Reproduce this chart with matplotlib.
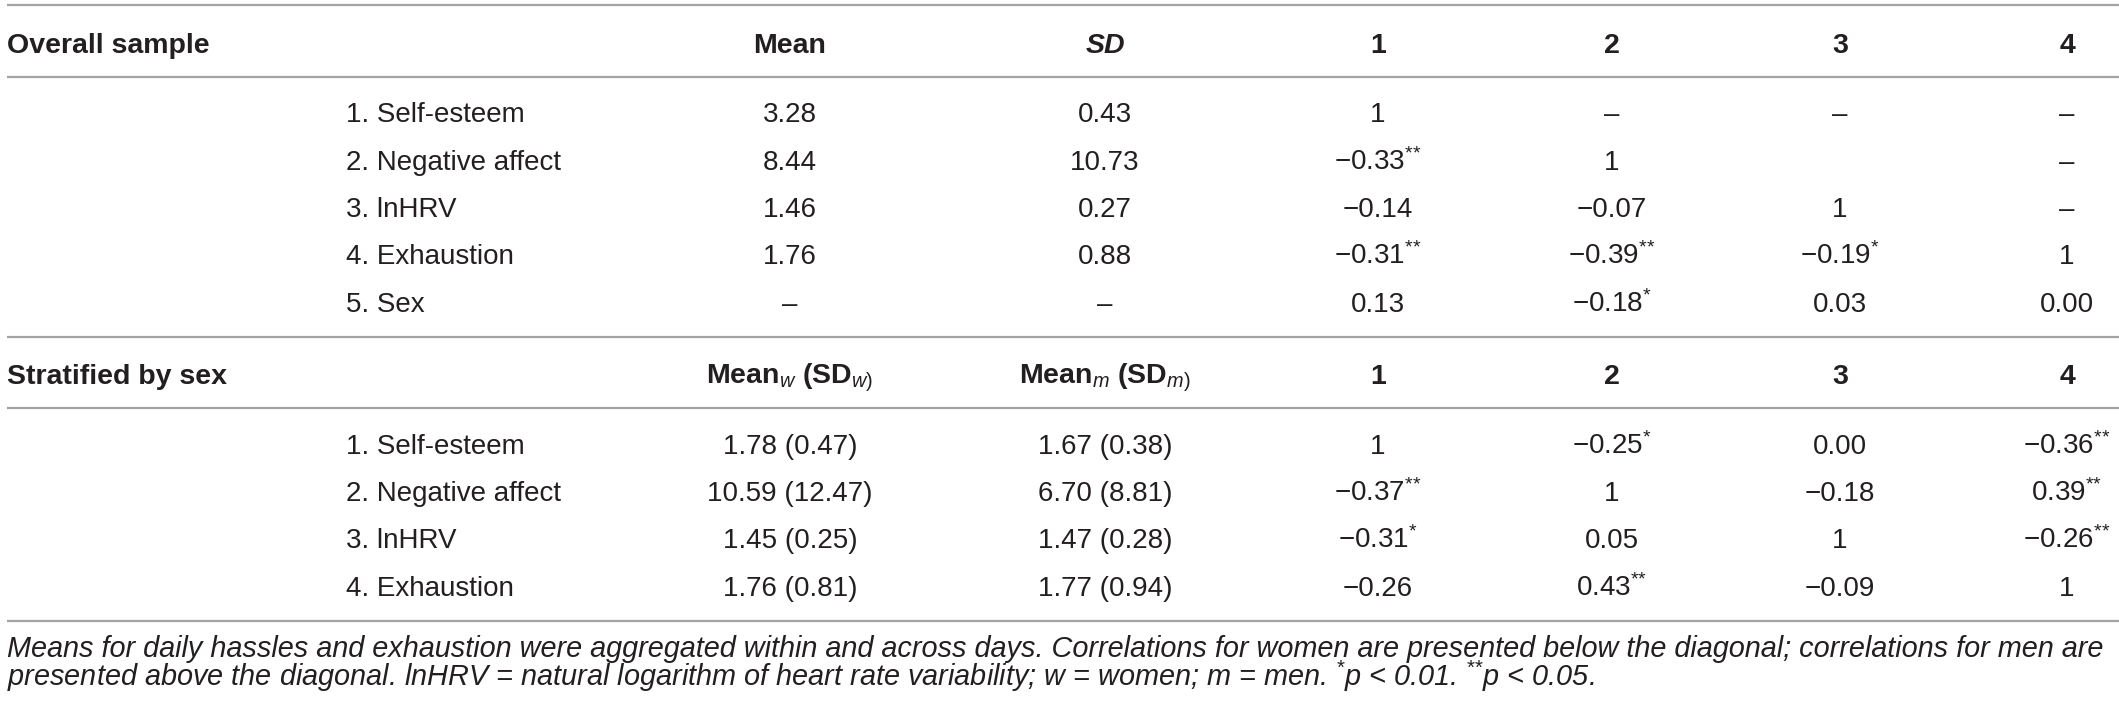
import matplotlib
matplotlib.use('Agg')
import matplotlib.pyplot as plt

plt.rcParams['font.family'] = ['Liberation Sans', 'DejaVu Sans']
plt.rcParams['mathtext.fontset'] = 'custom'
plt.rcParams['mathtext.rm'] = 'Liberation Sans'
plt.rcParams['mathtext.it'] = 'Liberation Sans:italic'
plt.rcParams['mathtext.bf'] = 'Liberation Sans:bold'

# table content
overall_header = ['Overall sample', 'Mean', 'SD', '1', '2', '3', '4']
overall_labels = ['1. Self-esteem', '2. Negative affect', '3. lnHRV', '4. Exhaustion', '5. Sex']
overall_mean = ['3.28', '8.44', '1.46', '1.76', '–']
overall_sd = ['0.43', '10.73', '0.27', '0.88', '–']
overall_corr = [['1', '–', '–', '–'],
                ['−0.33**', '1', '', '–'],
                ['−0.14', '−0.07', '1', '–'],
                ['−0.31**', '−0.39**', '−0.19*', '1'],
                ['0.13', '−0.18*', '0.03', '0.00']]

strat_header = ['Stratified by sex', r'Mean$_{w}$ (SD$_{w)}$', r'Mean$_{m}$ (SD$_{m)}$', '1', '2', '3', '4']
strat_labels = ['1. Self-esteem', '2. Negative affect', '3. lnHRV', '4. Exhaustion']
women = ['1.78 (0.47)', '10.59 (12.47)', '1.45 (0.25)', '1.76 (0.81)']
men = ['1.67 (0.38)', '6.70 (8.81)', '1.47 (0.28)', '1.77 (0.94)']
strat_corr = [['1', '−0.25*', '0.00', '−0.36**'],
              ['−0.37**', '1', '−0.18', '0.39**'],
              ['−0.31*', '0.05', '1', '−0.26**'],
              ['−0.26', '0.43**', '−0.09', '1']]

footnote = ['Means for daily hassles and exhaustion were aggregated within and across days. '
            'Correlations for women are presented below the diagonal; correlations for men are',
            'presented above the diagonal. lnHRV = natural logarithm of heart rate variability; '
            'w = women; m = men. $^{*}$p < 0.01. $^{{*}{*}}$p < 0.05.']

# layout (pixels)
W, H = 2119, 707
col_x = [790, 1105, 1378, 1612, 1840, 2067]
label_x = 346
left_x = 7
rules = [5, 77, 337, 408, 621]
head_y = [43, 374]
rows1_y = [112, 159.5, 207, 254.5, 302]
rows2_y = [444, 491, 538.5, 585.5]
foot_y = [649, 678]
fs = 20
txt = '#231f20'


def stars(s):
    n = len(s) - len(s.rstrip('*'))
    if n == 0:
        return s
    return s[:-n] + '$^{' + '{*}' * n + '}$'


fig = plt.figure(figsize=(W / 100, H / 100), dpi=100)
ax = fig.add_axes([0, 0, 1, 1])
ax.set_xlim(0, W)
ax.set_ylim(H, 0)
ax.axis('off')

for y in rules:
    ax.plot([left_x, W], [y, y], color='#a3a3a3', lw=1.6, solid_capstyle='butt')

base = 10  # baseline offset from row centre


def header(y, cells):
    ax.text(left_x, y + base, cells[0], fontsize=20.5, fontweight='bold', color=txt, va='baseline', ha='left')
    for i, c in enumerate(cells[1:]):
        style = 'italic' if c == 'SD' else 'normal'
        ax.text(col_x[i], y + base, c, fontsize=20.5, fontweight='bold', fontstyle=style,
                color=txt, va='baseline', ha='center')


def body(ys, labels, c1, c2, corr):
    for k, y in enumerate(ys):
        ax.text(label_x, y + base, labels[k], fontsize=fs, color=txt, va='baseline', ha='left')
        vals = [c1[k], c2[k]] + corr[k]
        for i, v in enumerate(vals):
            if v:
                ax.text(col_x[i], y + base, stars(v), fontsize=fs, color=txt, va='baseline', ha='center')


header(head_y[0], overall_header)
body(rows1_y, overall_labels, overall_mean, overall_sd, overall_corr)
header(head_y[1], strat_header)
body(rows2_y, strat_labels, women, men, strat_corr)

for y, line in zip(foot_y, footnote):
    ax.text(left_x, y + 8, line, fontsize=20.8, fontstyle='italic', color=txt, va='baseline', ha='left')

fig.savefig('out.png', dpi=100)
